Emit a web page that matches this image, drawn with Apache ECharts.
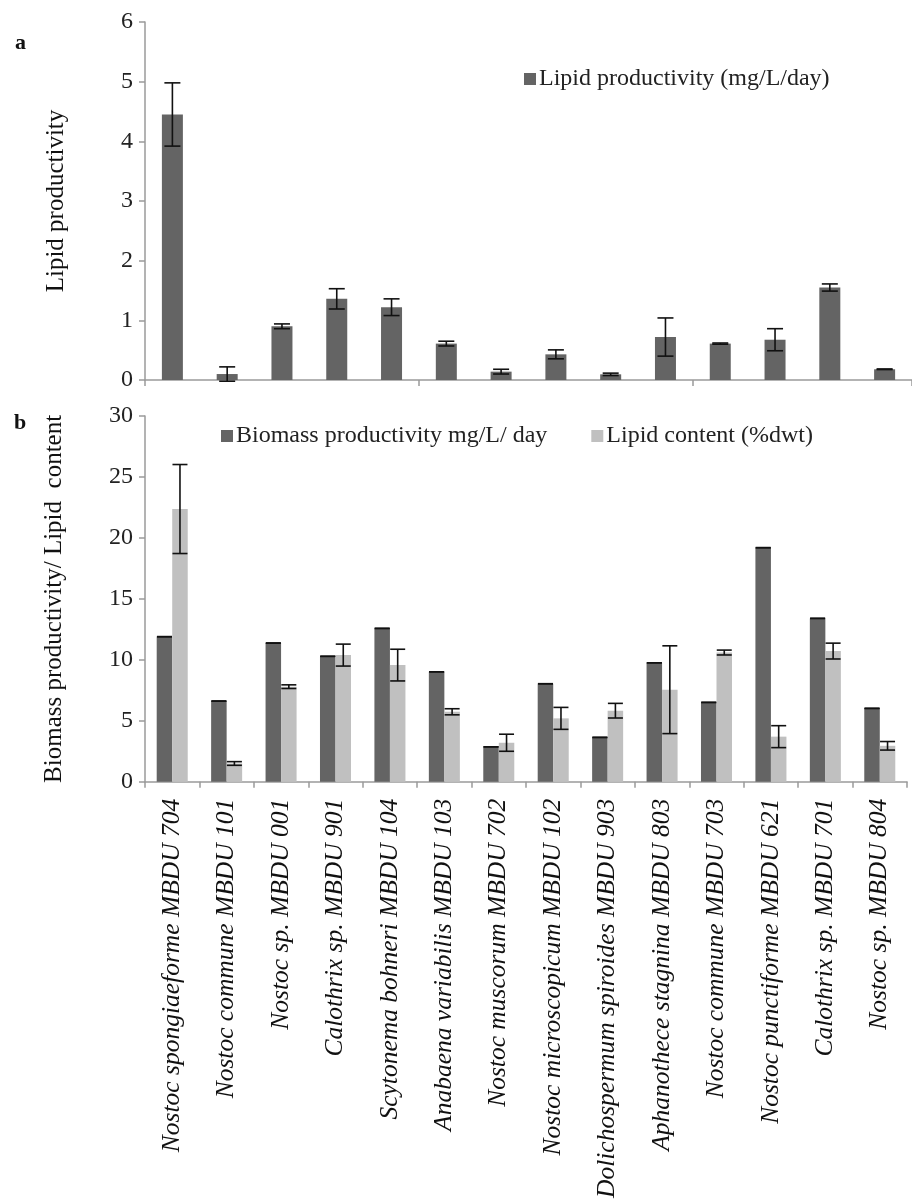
<!DOCTYPE html>
<html>
<head>
<meta charset="utf-8">
<script src="https://cdn.jsdelivr.net/npm/echarts@6/dist/echarts.min.js"></script>
<style>
html,body{margin:0;padding:0;background:#fff;}
#chart{width:912px;height:1201px;}
</style>
</head>
<body>
<div id="chart"></div>
<script>
var categories = [
  'Nostoc spongiaeforme MBDU 704',
  'Nostoc commune MBDU 101',
  'Nostoc sp. MBDU 001',
  'Calothrix sp. MBDU 901',
  'Scytonema bohneri MBDU 104',
  'Anabaena variabilis MBDU 103',
  'Nostoc muscorum MBDU 702',
  'Nostoc microscopicum MBDU 102',
  'Dolichospermum spiroides MBDU 903',
  'Aphanothece stagnina MBDU 803',
  'Nostoc commune MBDU 703',
  'Nostoc punctiforme MBDU 621',
  'Calothrix sp. MBDU 701',
  'Nostoc sp. MBDU 804'
];
var lipidProductivity    = [4.45, 0.10, 0.90, 1.36, 1.22, 0.61, 0.14, 0.43, 0.095, 0.72, 0.61, 0.675, 1.55, 0.18];
var lipidProductivityErr = [0.53, 0.12, 0.04, 0.17, 0.14, 0.04, 0.04, 0.075, 0.02, 0.32, 0.01, 0.185, 0.06, 0.005];
var biomassProductivity  = [11.9, 6.62, 11.38, 10.29, 12.58, 9.02, 2.87, 8.04, 3.64, 9.76, 6.51, 19.2, 13.4, 6.02];
var biomassErr           = [0, 0, 0, 0, 0, 0, 0, 0, 0, 0, 0, 0, 0, 0];
var lipidContent         = [22.37, 1.5, 7.8, 10.39, 9.57, 5.74, 3.2, 5.2, 5.83, 7.55, 10.6, 3.7, 10.72, 2.95];
var lipidContentErr      = [3.65, 0.15, 0.15, 0.9, 1.3, 0.25, 0.7, 0.9, 0.6, 3.6, 0.2, 0.9, 0.65, 0.35];
var topTicks = [0, 1, 2, 3, 4, 5, 6];
var bottomTicks = [0, 5, 10, 15, 20, 25, 30];

var FONT = "'Liberation Serif', 'Times New Roman', serif";
var DARK = '#646464';
var LIGHT = '#c0c0c0';
var AXIS = '#9a9a9a';

function errData(vals, errs) {
  return vals.map(function (v, i) { return [i, v - errs[i], v + errs[i]]; });
}
function errRender(offsetFrac, capHalf) {
  return function (params, api) {
    var i = api.value(0);
    var lo = api.coord([i, api.value(1)]);
    var hi = api.coord([i, api.value(2)]);
    var bw = api.size([1, 0])[0];
    var cx = lo[0] + offsetFrac * bw;
    var st = { stroke: '#111', lineWidth: 1.6 };
    return {
      type: 'group',
      children: [
        { type: 'line', shape: { x1: cx, y1: lo[1], x2: cx, y2: hi[1] }, style: st },
        { type: 'line', shape: { x1: cx - capHalf, y1: hi[1], x2: cx + capHalf, y2: hi[1] }, style: st },
        { type: 'line', shape: { x1: cx - capHalf, y1: lo[1], x2: cx + capHalf, y2: lo[1] }, style: st }
      ]
    };
  };
}

var catGap = 0.43;
var off = (1 - catGap) / 4;

var chart = echarts.init(document.getElementById('chart'), null, { renderer: 'canvas' });
var yAxisCommon = {
  type: 'value',
  nameLocation: 'middle',
  nameTextStyle: { fontFamily: FONT, fontSize: 25, color: '#111' },
  axisLine: { show: true, lineStyle: { color: AXIS, width: 1.5 } },
  axisTick: { show: true, length: 6, lineStyle: { color: AXIS, width: 1.5 } },
  axisLabel: { fontFamily: FONT, fontSize: 24, color: '#222', margin: 12 },
  splitLine: { show: false }
};
var xAxisCommon = {
  type: 'category',
  data: categories,
  boundaryGap: true,
  axisLine: { show: true, lineStyle: { color: AXIS, width: 1.5 } },
  axisTick: { show: true, alignWithLabel: false, length: 6, lineStyle: { color: AXIS, width: 1.5 } }
};

chart.setOption({
  animation: false,
  backgroundColor: '#fff',
  textStyle: { fontFamily: FONT },
  grid: [
    { left: 145, top: 22, width: 767, height: 358 },
    { left: 145, top: 416, width: 762, height: 366 }
  ],
  legend: [
    {
      data: ['Lipid productivity (mg/L/day)'],
      left: 519, top: 62,
      icon: 'rect', itemWidth: 12, itemHeight: 12, itemGap: 44,
      textStyle: { fontFamily: FONT, fontSize: 24, color: '#222', padding: [0, 0, 0, -2] }
    },
    {
      data: ['Biomass productivity mg/L/ day', 'Lipid content (%dwt)'],
      left: 216, top: 419,
      icon: 'rect', itemWidth: 12, itemHeight: 12, itemGap: 44,
      textStyle: { fontFamily: FONT, fontSize: 24, color: '#222', padding: [0, 0, 0, -2] }
    }
  ],
  xAxis: [
    Object.assign({}, xAxisCommon, { gridIndex: 0, axisLabel: { show: false } }),
    Object.assign({}, xAxisCommon, {
      gridIndex: 1,
      axisLabel: { show: true, interval: 0, rotate: 90, margin: 17,
        fontFamily: FONT, fontStyle: 'italic', fontSize: 25.5, color: '#111' }
    })
  ],
  yAxis: [
    Object.assign({}, yAxisCommon, { gridIndex: 0, min: topTicks[0], max: topTicks[topTicks.length - 1], interval: 1,
      name: 'Lipid productivity', nameGap: 76 }),
    Object.assign({}, yAxisCommon, { gridIndex: 1, min: bottomTicks[0], max: bottomTicks[bottomTicks.length - 1], interval: 5,
      name: 'Biomass productivity/ Lipid  content', nameGap: 78 })
  ],
  graphic: [
    { type: 'text', left: 15, top: 32, style: { text: 'a', font: 'bold 22px ' + FONT, fill: '#111' } },
    { type: 'text', left: 14, top: 412, style: { text: 'b', font: 'bold 22px ' + FONT, fill: '#111' } }
  ],
  series: [
    {
      name: 'Lipid productivity (mg/L/day)', type: 'bar', xAxisIndex: 0, yAxisIndex: 0,
      data: lipidProductivity, barWidth: 21, itemStyle: { color: DARK }
    },
    {
      type: 'custom', xAxisIndex: 0, yAxisIndex: 0, z: 10,
      data: errData(lipidProductivity, lipidProductivityErr),
      encode: { x: 0, y: [1, 2] },
      renderItem: errRender(0, 8)
    },
    {
      name: 'Biomass productivity mg/L/ day', type: 'bar', xAxisIndex: 1, yAxisIndex: 1,
      data: biomassProductivity, barGap: '0%', barCategoryGap: (catGap * 100) + '%',
      itemStyle: { color: DARK }
    },
    {
      name: 'Lipid content (%dwt)', type: 'bar', xAxisIndex: 1, yAxisIndex: 1,
      data: lipidContent, barGap: '0%', barCategoryGap: (catGap * 100) + '%',
      itemStyle: { color: LIGHT }
    },
    {
      type: 'custom', xAxisIndex: 1, yAxisIndex: 1, z: 10,
      data: errData(biomassProductivity, biomassErr),
      encode: { x: 0, y: [1, 2] },
      renderItem: errRender(-off, 7.5)
    },
    {
      type: 'custom', xAxisIndex: 1, yAxisIndex: 1, z: 10,
      data: errData(lipidContent, lipidContentErr),
      encode: { x: 0, y: [1, 2] },
      renderItem: errRender(off, 7.5)
    }
  ]
});
</script>
</body>
</html>
